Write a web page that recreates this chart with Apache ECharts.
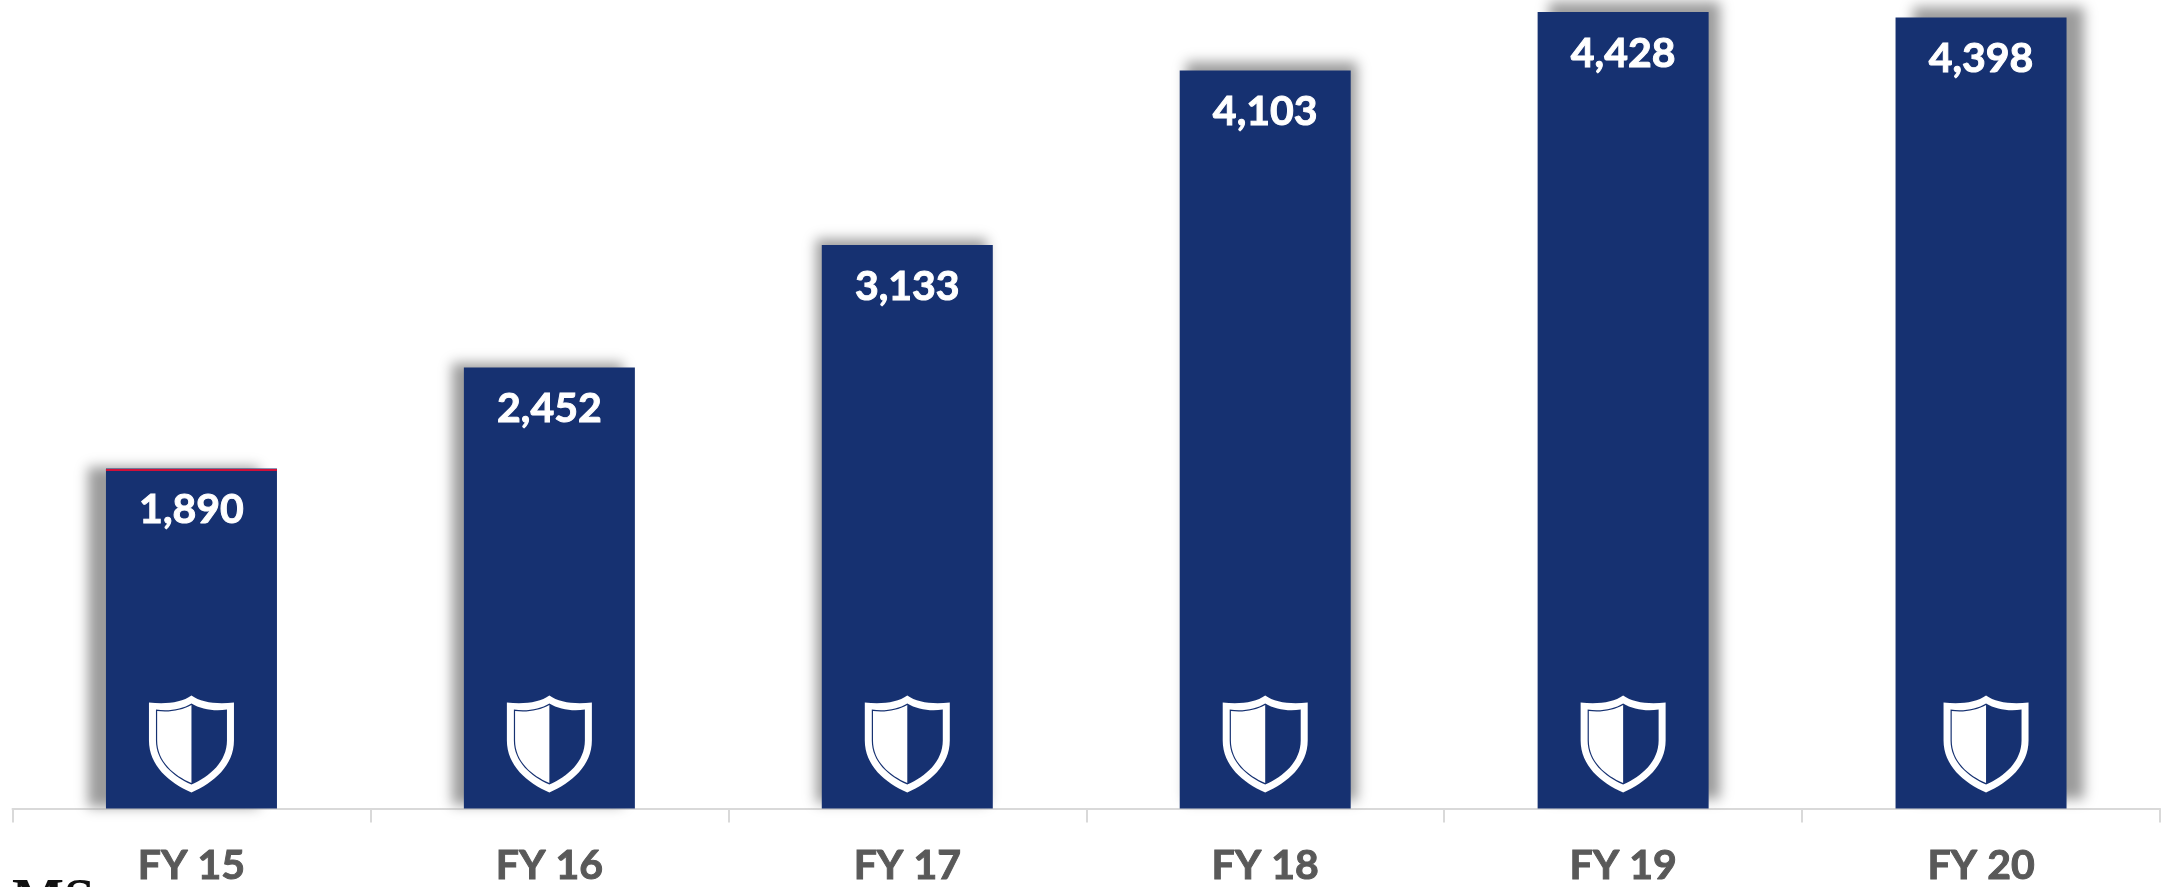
<!DOCTYPE html>
<html>
<head>
<meta charset="utf-8">
<title>FY chart</title>
<script src="https://cdn.jsdelivr.net/npm/echarts@6/dist/echarts.min.js"></script>
<style>
  html, body { margin: 0; padding: 0; background: #fff; overflow: hidden; }
  #main { width: 2161px; height: 887px; }
</style>
</head>
<body>
<div id="main"></div>
<script>
var categories = ["FY 15", "FY 16", "FY 17", "FY 18", "FY 19", "FY 20"];
var values = [1890, 2452, 3133, 4103, 4428, 4398];
// shadow falls away from the middle of the chart
var shadowOffsetsX = [-18, -12, -6, 6, 11, 17];
var shadowOffsetsY = [-2, -4, -6, -8, -10, -10];
var iconOffsets = [0, 0, 0, 0, 0, 5];
var redTopLine = [1890];

var FONT = "Lato, 'Open Sans', sans-serif";
var BAR_COLOR = "#163171";
var BAR_WIDTH = 171;

// outer outline, hole (wound the other way), left half
var SHIELD_PATH =
  "M42.5 0 C52 7 68 9 85 7 L85 45 C85 70 65 87 42.5 97 C20 87 0 70 0 45 L0 7 C17 9 33 7 42.5 0 Z " +
  "M42.5 8 C33 14 19 16 7 14 L7 45 C7 66 24 81 42.5 89 C61 81 78 66 78 45 L78 14 C66 16 52 14 42.5 8 Z " +
  "M42.5 9.5 L42.5 87.5 C25 80 8.2 66 8.2 45 L8.2 15.5 C20 17 33 15 42.5 9.5 Z";

var chart = echarts.init(document.getElementById("main"));

var option = {
  animation: false,
  backgroundColor: "#fff",
  grid: { left: 12.5, right: 1, top: 12, bottom: 77 },
  xAxis: {
    type: "category",
    data: categories,
    axisLine: { show: true, lineStyle: { color: "#d9d9d9", width: 2 } },
    axisTick: { show: true, length: 14, lineStyle: { color: "#d9d9d9", width: 2 } },
    axisLabel: {
      color: "#595959",
      fontFamily: FONT,
      fontWeight: "bold",
      fontSize: 41,
      margin: 37,
      textBorderColor: "#595959",
      textBorderWidth: 1,
    },
  },
  yAxis: {
    type: "value",
    min: 0,
    max: 4428,
    show: false,
    splitLine: { show: false },
  },
  series: [
    {
      type: "bar",
      barWidth: BAR_WIDTH,
      data: values.map(function (v, i) {
        return {
          value: v,
          itemStyle: {
            color: BAR_COLOR,
            shadowColor: "#9c9c9c",
            shadowBlur: 12,
            shadowOffsetX: shadowOffsetsX[i],
            shadowOffsetY: shadowOffsetsY[i],
          },
        };
      }),
      label: {
        show: true,
        position: "insideTop",
        distance: 21,
        color: "#fff",
        fontFamily: FONT,
        fontWeight: "bold",
        fontSize: 41,
        textBorderColor: "#fff",
        textBorderWidth: 1,
        formatter: function (p) {
          return p.value.toLocaleString("en-US");
        },
      },
    },
    {
      type: "custom",
      silent: true,
      z: 5,
      data: values,
      renderItem: function (params, api) {
        var base = api.coord([api.value(0), 0]);
        return {
          type: "path",
          shape: {
            pathData: SHIELD_PATH,
            x: base[0] - 42.5 + iconOffsets[params.dataIndex],
            y: base[1] - 113,
            width: 85,
            height: 97,
          },
          style: { fill: "#fff" },
        };
      },
    },
    {
      type: "custom",
      silent: true,
      z: 6,
      data: redTopLine,
      renderItem: function (params, api) {
        var p = api.coord([api.value(0), api.value(1)]);
        return {
          type: "rect",
          shape: { x: p[0] - BAR_WIDTH / 2, y: Math.round(p[1]), width: BAR_WIDTH, height: 2 },
          style: { fill: "#d0103a" },
        };
      },
    },
  ],
  graphic: [
    {
      type: "text",
      left: 12,
      top: 874,
      style: {
        text: "MS",
        fill: "#111",
        font: "bold 55px 'Liberation Serif', serif",
      },
    },
  ],
};

chart.setOption(option);
</script>
</body>
</html>
